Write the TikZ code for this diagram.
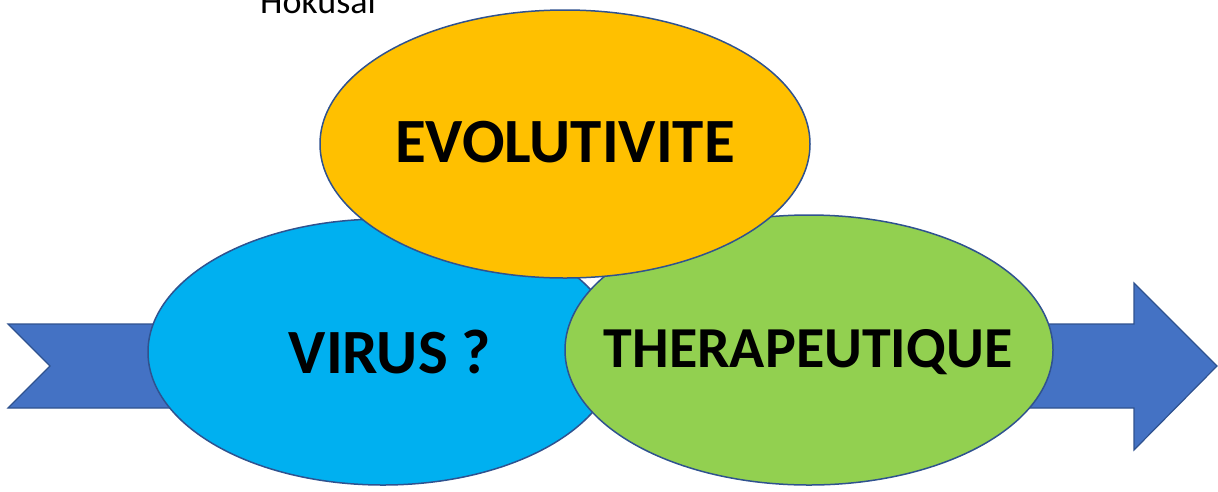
\documentclass[tikz,border=0pt]{standalone}
\usepackage{fontspec}
\setmainfont{Carlito}
\usetikzlibrary{shapes.geometric}
\definecolor{arrowblue}{HTML}{4472C4}
\definecolor{edgeblue}{HTML}{2F528F}
\definecolor{skyblue}{HTML}{00B0F0}
\definecolor{leafgreen}{HTML}{92D050}
\definecolor{gold}{HTML}{FFC000}
\tikzset{
  bubble/.style={ellipse, draw=edgeblue, line width=1.5pt, inner sep=0pt},
  caption/.style={anchor=base, inner sep=0pt, font=\bfseries\fontsize{#1}{#1}\selectfont},
  caption/.default=63
}
\begin{document}
\begin{tikzpicture}[x=1pt,y=-1pt]
      \useasboundingbox (0,0) rectangle (1218,491);
      \draw (318,13) node[anchor=base, font=\fontsize{36}{36}\selectfont] (hokusai){Hokusai};
      % arrow behind the bubbles
      \draw[fill=arrowblue, draw=edgeblue, line width=1.2pt, line join=miter]
        (8,324) -- (1134,324) -- (1134,283) -- (1217,366) -- (1134,450)
        -- (1134,408) -- (8,408) -- (50,366) -- cycle;
      \draw
        (383,352) node[bubble, fill=skyblue, minimum width=470, minimum height=266] (virus){}
        (809,350) node[bubble, fill=leafgreen, minimum width=488, minimum height=270] (thera){}
        (565,144) node[bubble, fill=gold, minimum width=490, minimum height=268] (evol){};
      \begin{scope}[every node/.style={caption}]
        \draw
          (390,373) node (virus text){VIRUS ?}
          (808,367) node[caption=58] (thera text){THERAPEUTIQUE}
          (565,162) node (evol text){EVOLUTIVITE};
      \end{scope}
    \end{tikzpicture}
\end{document}
